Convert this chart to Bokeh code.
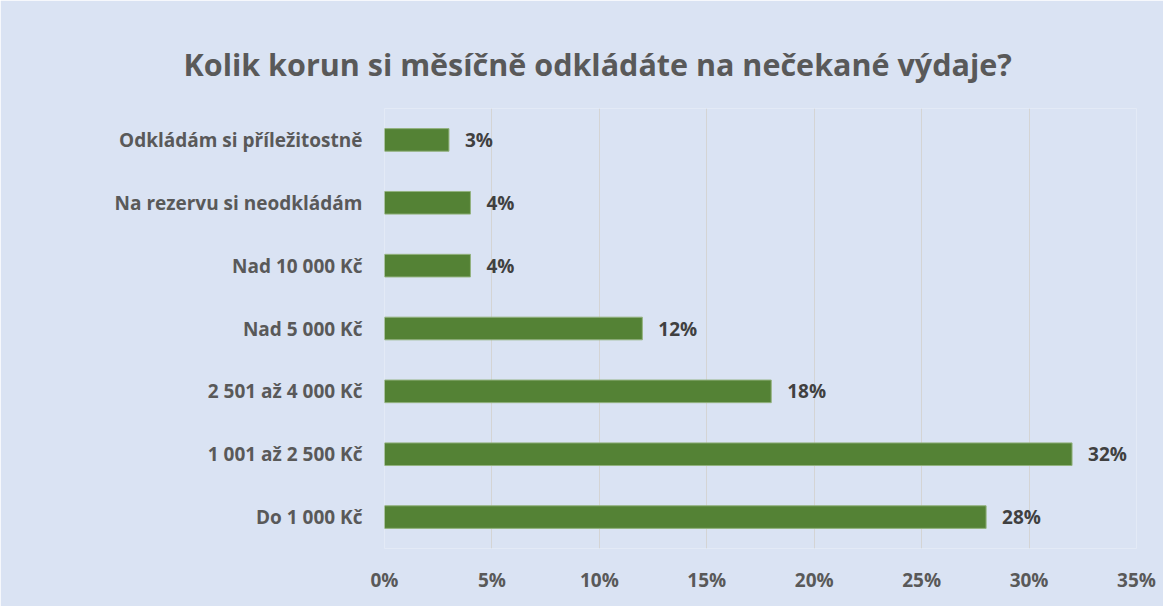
from bokeh.plotting import figure
from bokeh.models import ColumnDataSource, NumeralTickFormatter, FixedTicker, Range1d
from bokeh.embed import file_html
from bokeh.resources import INLINE

categories = ["Do 1 000 Kč", "1 001 až 2 500 Kč", "2 501 až 4 000 Kč", "Nad 5 000 Kč",
              "Nad 10 000 Kč", "Na rezervu si neodkládám", "Odkládám si příležitostně"]
values = [0.28, 0.32, 0.18, 0.12, 0.04, 0.04, 0.03]
labels = ["28%", "32%", "18%", "12%", "4%", "4%", "3%"]
ticks = [0, 0.05, 0.10, 0.15, 0.20, 0.25, 0.30, 0.35]

BG = "#dae3f3"
FONT = "Open Sans"

src = ColumnDataSource(dict(cat=categories, val=values, lab=labels))

p = figure(width=1163, height=606, y_range=categories, x_range=Range1d(0, 0.35),
           output_backend="svg", toolbar_location=None,
           title="Kolik korun si měsíčně odkládáte na nečekané výdaje?",
           min_border_left=384, min_border_right=27, min_border_top=108, min_border_bottom=58)
p.background_fill_color = BG
p.border_fill_color = BG
p.outline_line_color = None

p.title.text_font = FONT
p.title.text_font_style = "bold"
p.title.text_font_size = "30.5px"
p.title.text_color = "#595959"
p.title.align = "left"
p.title.offset = -201
p.title.standoff = 48

p.hbar(y="cat", right="val", left=0, height=0.36, source=src,
       fill_color="#548235", line_color="#93b27f", line_width=1)

p.text(x="val", y="cat", text="lab", source=src, x_offset=16,
       text_align="left", text_baseline="middle",
       text_font={"value": FONT}, text_font_style="bold", text_font_size="19px",
       text_color="#404040")

p.xaxis.ticker = FixedTicker(ticks=ticks)
p.xaxis.formatter = NumeralTickFormatter(format="0%")
for ax in (p.xaxis, p.yaxis):
    ax.axis_line_color = None
    ax.major_tick_line_color = None
    ax.minor_tick_line_color = None
    ax.major_label_text_font = FONT
    ax.major_label_text_font_style = "bold"
    ax.major_label_text_font_size = "19px"
    ax.major_label_text_color = "#595959"
p.yaxis.major_label_standoff = 16
p.xaxis.major_label_standoff = 12

p.xgrid.grid_line_color = "#d4d4d4"
p.xgrid.grid_line_width = 1
p.ygrid.grid_line_color = None

open("out.html", "w").write(file_html(p, INLINE))
